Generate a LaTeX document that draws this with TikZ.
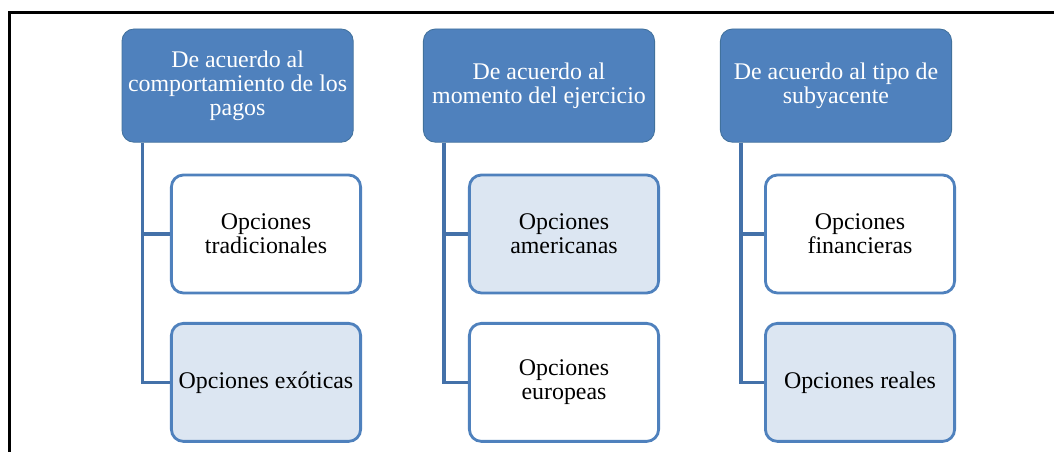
\documentclass[tikz,border=0pt]{standalone}
\usepackage{fontspec}
\setmainfont{Liberation Serif}
\definecolor{cabecera}{HTML}{4F81BD}
\definecolor{bordecab}{HTML}{41719C}
\definecolor{celeste}{HTML}{DCE6F2}
\definecolor{linea}{HTML}{4471A9}
\begin{document}
\begin{tikzpicture}[font=\fontsize{17pt}{17pt}\selectfont,
        titulo/.style={rectangle, rounded corners=0.3cm, fill=cabecera, draw=bordecab, line width=0.6pt, text=white, minimum width=5.78cm, minimum height=2.83cm, align=center},
        opcion/.style={rectangle, rounded corners=0.3cm, draw=cabecera, line width=2pt, fill=white, minimum width=4.73cm, minimum height=2.95cm, align=center},
        sombreada/.style={opcion, fill=celeste},
        rama/.style={draw=linea, line width=2.4pt}]
        \useasboundingbox (0,0) rectangle (26.35,-11.3);
        \draw[line width=2pt] (0.24,-11.3) -- (0.24,-0.31) -- (26.35,-0.31); % marco

        % cabeceras
        \node (h1) at (5.94,-2.14) [titulo] {De acuerdo al\\ comportamiento de los\\ pagos};
        \node (h2) at (13.475,-2.14) [titulo] {De acuerdo al\\ momento del ejercicio};
        \node (h3) at (20.9,-2.14) [titulo] {De acuerdo al tipo de\\ subyacente};

        % opciones
        \node (t1) at (6.65,-5.85) [opcion] {Opciones\\ tradicionales};
        \node (e1) at (6.65,-9.56) [sombreada] {Opciones exóticas};
        \node (a2) at (14.1,-5.85) [sombreada] {Opciones\\ americanas};
        \node (u2) at (14.1,-9.56) [opcion] {Opciones\\ europeas};
        \node (f3) at (21.5,-5.85) [opcion] {Opciones\\ financieras};
        \node (r3) at (21.5,-9.56) [sombreada] {Opciones reales};

        % ramas
        \draw[rama] ([xshift=0.525cm]h1.south west) |- (t1.west);
        \draw[rama] ([xshift=0.525cm]h1.south west) |- (e1.west);
        \draw[rama] ([xshift=0.525cm]h2.south west) |- (a2.west);
        \draw[rama] ([xshift=0.525cm]h2.south west) |- (u2.west);
        \draw[rama] ([xshift=0.525cm]h3.south west) |- (f3.west);
        \draw[rama] ([xshift=0.525cm]h3.south west) |- (r3.west);
\end{tikzpicture}
\end{document}
